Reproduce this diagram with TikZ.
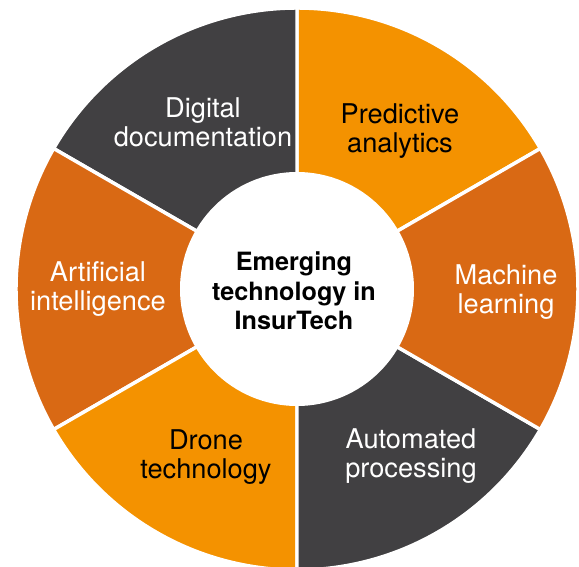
\documentclass[tikz,border=0pt]{standalone}
\usepackage{fontspec}
\setmainfont{TeX Gyre Heros}
\usetikzlibrary{positioning}

\definecolor{lightorange}{HTML}{F49200}
\definecolor{darkorange}{HTML}{D96914}
\definecolor{darkgrey}{HTML}{414042}

\begin{document}
\begin{tikzpicture}[x=0.75pt, y=0.75pt]
	\tikzstyle{sector}=[draw=white, line width=2.6pt]
	\tikzstyle{segtext}=[align=center, inner sep=0pt, font=\fontsize{20.4}{21.9}\selectfont]
	\tikzstyle{hub}=[circle, fill=white, minimum size=175.5pt, inner sep=0pt]
	\tikzstyle{title}=[align=center, inner sep=0pt, font=\fontsize{18.9}{22}\selectfont\bfseries]

	\useasboundingbox (-297,-278) rectangle (282,289);
	\clip (-297,-278) rectangle (282,289);

	\coordinate (o) at (0,0);

	% the six segments of the ring
	\filldraw[sector, fill=lightorange] (o) -- (30:281) arc[start angle=30, end angle=90, radius=210.75pt] -- cycle;
	\filldraw[sector, fill=darkgrey] (o) -- (90:281) arc[start angle=90, end angle=150, radius=210.75pt] -- cycle;
	\filldraw[sector, fill=darkorange] (o) -- (150:281) arc[start angle=150, end angle=210, radius=210.75pt] -- cycle;
	\filldraw[sector, fill=lightorange] (o) -- (210:281) arc[start angle=210, end angle=270, radius=210.75pt] -- cycle;
	\filldraw[sector, fill=darkgrey] (o) -- (270:281) arc[start angle=270, end angle=330, radius=210.75pt] -- cycle;
	\filldraw[sector, fill=darkorange] (o) -- (-30:281) arc[start angle=-30, end angle=30, radius=210.75pt] -- cycle;

	\node (hub) [hub] at (o) {};
	\node (tt) [title] at (-3,-2) {Emerging\\technology in\\InsurTech};

	\node (pa) [segtext, text=black] at (103,158) {Predictive\\analytics};
	\node (dd) [segtext, text=white] at (-94,167) {Digital\\documentation};
	\node (ai) [segtext, text=white] at (-199,0) {Artificial\\intelligence};
	\node (dt) [segtext, text=black] at (-91,-168) {Drone\\technology};
	\node (ap) [segtext, text=white] at (114,-167) {Automated\\processing};
	\node (ml) [segtext, text=white] at (209,-3) {Machine\\learning};
\end{tikzpicture}
\end{document}
